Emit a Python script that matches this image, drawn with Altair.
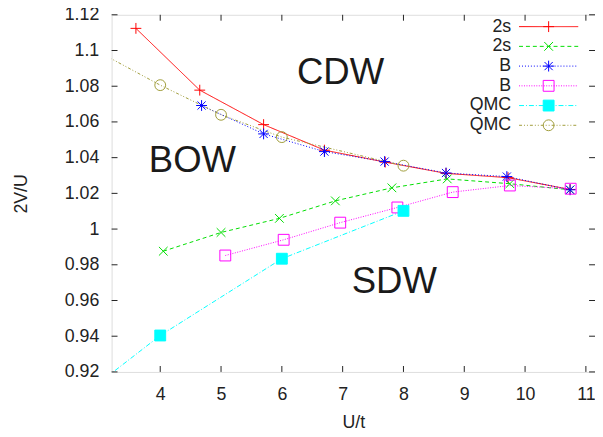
import altair as alt
import pandas as pd

FONT = "Liberation Sans"
INK = "#222222"

# ---- data ----
red_u = [3.6, 4.65, 5.7, 6.7, 7.7, 8.7, 9.72, 10.74]
red_v = [1.1124, 1.0778, 1.0585, 1.0442, 1.0375, 1.0312, 1.0288, 1.0222]
green_u = [4.05, 5.0, 5.96, 6.88, 7.81, 8.72, 9.75, 10.74]
green_v = [0.9876, 0.9981, 1.0060, 1.0158, 1.0231, 1.0281, 1.0254, 1.0220]
blue_u = [4.68, 5.70, 6.70, 7.69, 8.70, 9.70, 10.74]
blue_v = [1.0692, 1.0533, 1.0434, 1.0378, 1.0314, 1.0294, 1.0220]
mag_u = [5.07, 6.03, 6.96, 7.90, 8.81, 9.75, 10.75]
mag_v = [0.9852, 0.9940, 1.0036, 1.0121, 1.0207, 1.0244, 1.0226]
cyan_u = [3.0, 4.0, 6.0, 8.0]
cyan_v = [0.914, 0.9404, 0.9834, 1.0102]
olive_u = [3.0, 4.0, 5.0, 6.0, 8.0]
olive_v = [1.099, 1.0806, 1.0640, 1.0515, 1.0355]

legend_labels = ["2s", "2s", "B", "B", "QMC", "QMC"]
series_u = [red_u, green_u, blue_u, mag_u, cyan_u, olive_u]
series_v = [red_v, green_v, blue_v, mag_v, cyan_v, olive_v]

region_names = ["CDW", "BOW", "SDW"]
region_u = [6.965, 4.53, 7.85]
region_v = [1.0871, 1.0382, 0.9700]

x_domain = [3.2, 11.15]
y_domain = [0.92, 1.12]
x_ticks = [4, 5, 6, 7, 8, 9, 10, 11]
y_ticks = [0.92, 0.94, 0.96, 0.98, 1.0, 1.02, 1.04, 1.06, 1.08, 1.1, 1.12]

# ---- styles ----
colors = ["#ff0000", "#00dd00", "#0000ff", "#ff00ff", "#00ffff", "#a09c3a"]
dashes = [[1, 0], [4, 3], [1, 2], [1, 1.5], [5, 2, 1, 2], [3, 2, 1, 2, 1, 2]]
plus = "M-1,0H1M0,-1V1"
xmark = "M-0.8,-0.8L0.8,0.8M-0.8,0.8L0.8,-0.8"
star = "M-1,0H1M0,-1V1M-0.75,-0.75L0.75,0.75M-0.75,0.75L0.75,-0.75"
shapes = [plus, xmark, star, "square", "square", "circle"]
fills = ["transparent", "transparent", "transparent", "transparent", "#00ffff", "transparent"]
legend_stroke = "M-5.45,0H5.45"   # long line sample drawn with a 12px legend symbol

lkeys = ["L%d" % i for i in range(6)]
pkeys = ["P%d" % i for i in range(6)]

rows = []
for i in range(6):
    for u, v in zip(series_u[i], series_v[i]):
        rows.append({"u": u, "v": v, "lkey": lkeys[i], "pkey": pkeys[i]})
df = pd.DataFrame(rows)

regions = pd.DataFrame({"name": region_names, "u": region_u, "v": region_v})

# tick-mark anchors on the frame edges (the scale domain ends)
tick_bottom = pd.DataFrame({"u": x_ticks, "v": [y_domain[0]] * len(x_ticks)})
tick_top = pd.DataFrame({"u": x_ticks, "v": [y_domain[1]] * len(x_ticks)})
tick_left = pd.DataFrame({"u": [x_domain[0]] * len(y_ticks), "v": y_ticks})
tick_right = pd.DataFrame({"u": [x_domain[1]] * len(y_ticks), "v": y_ticks})

xscale = alt.Scale(domain=x_domain, nice=False, zero=False)
yscale = alt.Scale(domain=y_domain, nice=False, zero=False)

axis_style = dict(grid=False, domain=False, ticks=False, tickSize=0,
                  labelOverlap=False, labelFont=FONT,
                  labelFontSize=18, labelColor=INK, titleFont=FONT, titleFontSize=18,
                  titleFontWeight="normal", titleColor=INK)
xaxis = alt.Axis(values=x_ticks, format="~g", title="U/t", orient="bottom",
                 labelPadding=14, titlePadding=10, **axis_style)
yaxis = alt.Axis(values=y_ticks, format="~g", title="2V/U", orient="left",
                 labelPadding=13, titlePadding=34, **axis_style)

def lab_expr(keys):
    return "%s[indexof(%s, datum.value)]" % (
        "[" + ",".join("'%s'" % s for s in legend_labels) + "]",
        "[" + ",".join("'%s'" % s for s in keys) + "]")

common = dict(title=None, orient="none", legendX=434, legendY=3, symbolSize=121,
              symbolStrokeWidth=1, rowPadding=2, padding=0,
              labelAlign="right", labelOffset={"expr": "-47"}, labelFont=FONT,
              labelFontSize=18, labelBaseline="middle")
leg_line = alt.Legend(symbolType=legend_stroke, labelExpr=lab_expr(lkeys),
                      labelColor=INK, **common)
leg_pt = alt.Legend(labelExpr=lab_expr(pkeys), labelColor="transparent", **common)

lines = alt.Chart(df).mark_line(clip=True, strokeWidth=1).encode(
    x=alt.X("u:Q", scale=xscale, axis=xaxis),
    y=alt.Y("v:Q", scale=yscale, axis=yaxis),
    color=alt.Color("lkey:N", scale=alt.Scale(domain=lkeys, range=colors), legend=leg_line),
    strokeDash=alt.StrokeDash("lkey:N", scale=alt.Scale(domain=lkeys, range=dashes), legend=leg_line),
    order=alt.Order("u:Q"),
)

points = alt.Chart(df).mark_point(clip=True, filled=False, strokeWidth=1, opacity=1, size=121).encode(
    x=alt.X("u:Q", axis=None),
    y=alt.Y("v:Q", axis=None),
    color=alt.Color("pkey:N", scale=alt.Scale(domain=pkeys, range=colors), legend=leg_pt),
    shape=alt.Shape("pkey:N", scale=alt.Scale(domain=pkeys, range=shapes), legend=leg_pt),
    fill=alt.Fill("pkey:N", scale=alt.Scale(domain=pkeys, range=fills), legend=leg_pt),
)

labels = alt.Chart(regions).mark_text(font=FONT, fontSize=37, color="#1a1a1a",
                                      align="center", baseline="middle").encode(
    x=alt.X("u:Q", axis=None),
    y=alt.Y("v:Q", axis=None),
    text="name:N")

# inward tick marks on all four sides of the frame (gnuplot style), drawn as
# 6px path symbols anchored on the frame edges
def tick_layer(data, path):
    return alt.Chart(data).mark_point(filled=False, color=INK, strokeWidth=1,
                                      opacity=1, size=36).encode(
        x=alt.X("u:Q", axis=None), y=alt.Y("v:Q", axis=None), shape=alt.value(path))

tick_b = tick_layer(tick_bottom, "M0,0V-2")
tick_t = tick_layer(tick_top, "M0,0V2")
tick_l = tick_layer(tick_left, "M0,0H2")
tick_r = tick_layer(tick_right, "M0,0H-2")

chart = alt.layer(lines, points, labels, tick_b, tick_t, tick_l, tick_r).resolve_scale(
    color="independent", shape="independent", fill="independent", strokeDash="independent"
).resolve_axis(
    x="independent", y="independent"
).properties(
    width=490, height=362,
    padding={"left": 105, "top": 4, "right": 0, "bottom": 58},
    autosize=alt.AutoSizeParams(type="none"),
).configure_view(stroke=INK, strokeWidth=1).configure(background="white")

chart.save("out.html", embed_options={"renderer": "svg", "actions": False})
